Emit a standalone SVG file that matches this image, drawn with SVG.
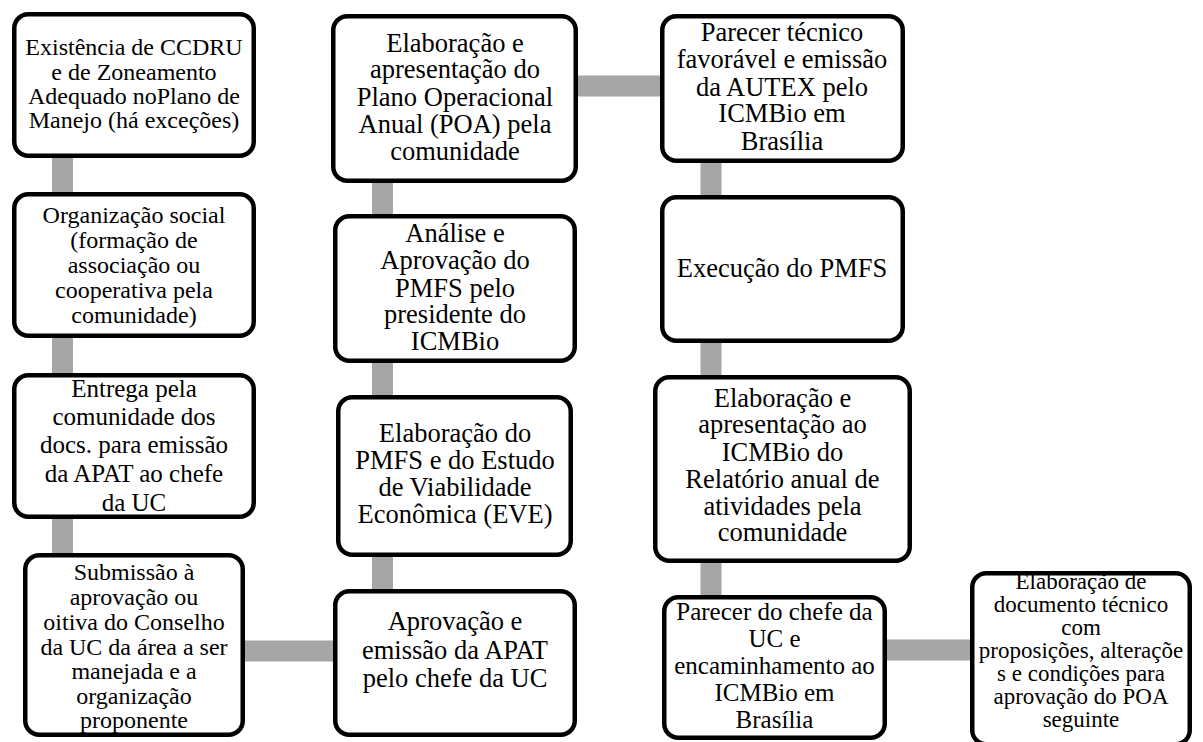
<svg xmlns="http://www.w3.org/2000/svg" width="1203" height="742" viewBox="0 0 1203 742">
<style>
.box{fill:#fff;stroke:#000;stroke-width:4.5}
.con{stroke:#a6a6a6;stroke-width:21;fill:none}
text{font-family:"Liberation Serif","Times New Roman",serif;fill:#000;text-anchor:middle}
.s24{font-size:24px}
.s25{font-size:25px}
.s26{font-size:26.5px}
.s23{font-size:23px}
</style>
<rect width="1203" height="742" fill="#fff"/>
<g id="connectors">
<line class="con" x1="62.5" y1="150" x2="62.5" y2="560"/>
<line class="con" x1="240" y1="651" x2="340" y2="651"/>
<line class="con" x1="382.5" y1="595" x2="382.5" y2="175"/>
<line class="con" x1="570" y1="86" x2="668" y2="86"/>
<line class="con" x1="711" y1="155" x2="711" y2="600"/>
<line class="con" x1="880" y1="650" x2="978" y2="650"/>
</g>
<g id="n1"><rect class="box" x="14.25" y="14.25" width="239.5" height="141.5" rx="14"/>
<text class="s24"><tspan x="134" y="55">Existência de CCDRU</tspan><tspan x="134" y="80">e de Zoneamento</tspan><tspan x="134" y="104">Adequado noPlano de</tspan><tspan x="134" y="128">Manejo (há exceções)</tspan></text></g>
<g id="n2"><rect class="box" x="14.25" y="194.25" width="239.5" height="141.5" rx="14"/>
<text class="s24"><tspan x="134" y="223">Organização social</tspan><tspan x="134" y="248">(formação de</tspan><tspan x="134" y="273">associação ou</tspan><tspan x="134" y="298">cooperativa pela</tspan><tspan x="134" y="323">comunidade)</tspan></text></g>
<g id="n3"><rect class="box" x="14.25" y="375.25" width="239.5" height="141.5" rx="14"/>
<text class="s25"><tspan x="134" y="397">Entrega pela</tspan><tspan x="134" y="425">comunidade dos</tspan><tspan x="134" y="453">docs. para emissão</tspan><tspan x="134" y="482">da APAT ao chefe</tspan><tspan x="134" y="511">da UC</tspan></text></g>
<g id="n4"><rect class="box" x="25.25" y="555.25" width="217.5" height="179.5" rx="14"/>
<text class="s24"><tspan x="134" y="580">Submissão à</tspan><tspan x="134" y="605">aprovação ou</tspan><tspan x="134" y="630">oitiva do Conselho</tspan><tspan x="134" y="655">da UC da área a ser</tspan><tspan x="134" y="679">manejada e a</tspan><tspan x="134" y="704">organização</tspan><tspan x="134" y="728">proponente</tspan></text></g>
<g id="n5"><rect class="box" x="333.25" y="16.25" width="242.5" height="164.5" rx="14"/>
<text class="s26"><tspan x="455" y="52">Elaboração e</tspan><tspan x="455" y="78">apresentação do</tspan><tspan x="455" y="106">Plano Operacional</tspan><tspan x="455" y="133">Anual (POA) pela</tspan><tspan x="455" y="160">comunidade</tspan></text></g>
<g id="n6"><rect class="box" x="335.25" y="216.25" width="239.5" height="144.5" rx="14"/>
<text class="s26"><tspan x="455" y="242">Análise e</tspan><tspan x="455" y="269">Aprovação do</tspan><tspan x="455" y="297">PMFS pelo</tspan><tspan x="455" y="323">presidente do</tspan><tspan x="455" y="350">ICMBio</tspan></text></g>
<g id="n7"><rect class="box" x="338.25" y="397.25" width="232.5" height="157.5" rx="14"/>
<text class="s26"><tspan x="455" y="442">Elaboração do</tspan><tspan x="455" y="469">PMFS e do Estudo</tspan><tspan x="455" y="496">de Viabilidade</tspan><tspan x="455" y="523">Econômica (EVE)</tspan></text></g>
<g id="n8"><rect class="box" x="335.25" y="591.25" width="239.5" height="143.5" rx="14"/>
<text class="s26"><tspan x="455" y="630">Aprovação e</tspan><tspan x="455" y="659">emissão da APAT</tspan><tspan x="455" y="687">pelo chefe da UC</tspan></text></g>
<g id="n9"><rect class="box" x="662.25" y="16.25" width="240.5" height="144.5" rx="14"/>
<text class="s26"><tspan x="782" y="41">Parecer técnico</tspan><tspan x="782" y="68">favorável e emissão</tspan><tspan x="782" y="96">da AUTEX pelo</tspan><tspan x="782" y="122">ICMBio em</tspan><tspan x="782" y="150">Brasília</tspan></text></g>
<g id="n10"><rect class="box" x="662.25" y="197.25" width="240.5" height="143.5" rx="14"/>
<text class="s26"><tspan x="782" y="277">Execução do PMFS</tspan></text></g>
<g id="n11"><rect class="box" x="655.25" y="377.25" width="254.5" height="183.5" rx="14"/>
<text class="s26"><tspan x="782.5" y="407">Elaboração e</tspan><tspan x="782.5" y="433">apresentação ao</tspan><tspan x="782.5" y="461">ICMBio do</tspan><tspan x="782.5" y="488">Relatório anual de</tspan><tspan x="782.5" y="515">atividades pela</tspan><tspan x="782.5" y="541">comunidade</tspan></text></g>
<g id="n12"><rect class="box" x="664.25" y="597.25" width="220.5" height="140.5" rx="14"/>
<text class="s25"><tspan x="774.5" y="620">Parecer do chefe da</tspan><tspan x="774.5" y="647">UC e</tspan><tspan x="774.5" y="674">encaminhamento ao</tspan><tspan x="774.5" y="701">ICMBio em</tspan><tspan x="774.5" y="728">Brasília</tspan></text></g>
<g id="n13"><rect class="box" x="972.25" y="573.25" width="217.5" height="171" rx="14"/>
<text class="s23"><tspan x="1081" y="589">Elaboração de</tspan><tspan x="1081" y="612">documento técnico</tspan><tspan x="1081" y="635">com</tspan><tspan x="1081" y="658">proposições, alteraçõe</tspan><tspan x="1081" y="681">s e condições para</tspan><tspan x="1081" y="704">aprovação do POA</tspan><tspan x="1081" y="727">seguinte</tspan></text></g>
</svg>
